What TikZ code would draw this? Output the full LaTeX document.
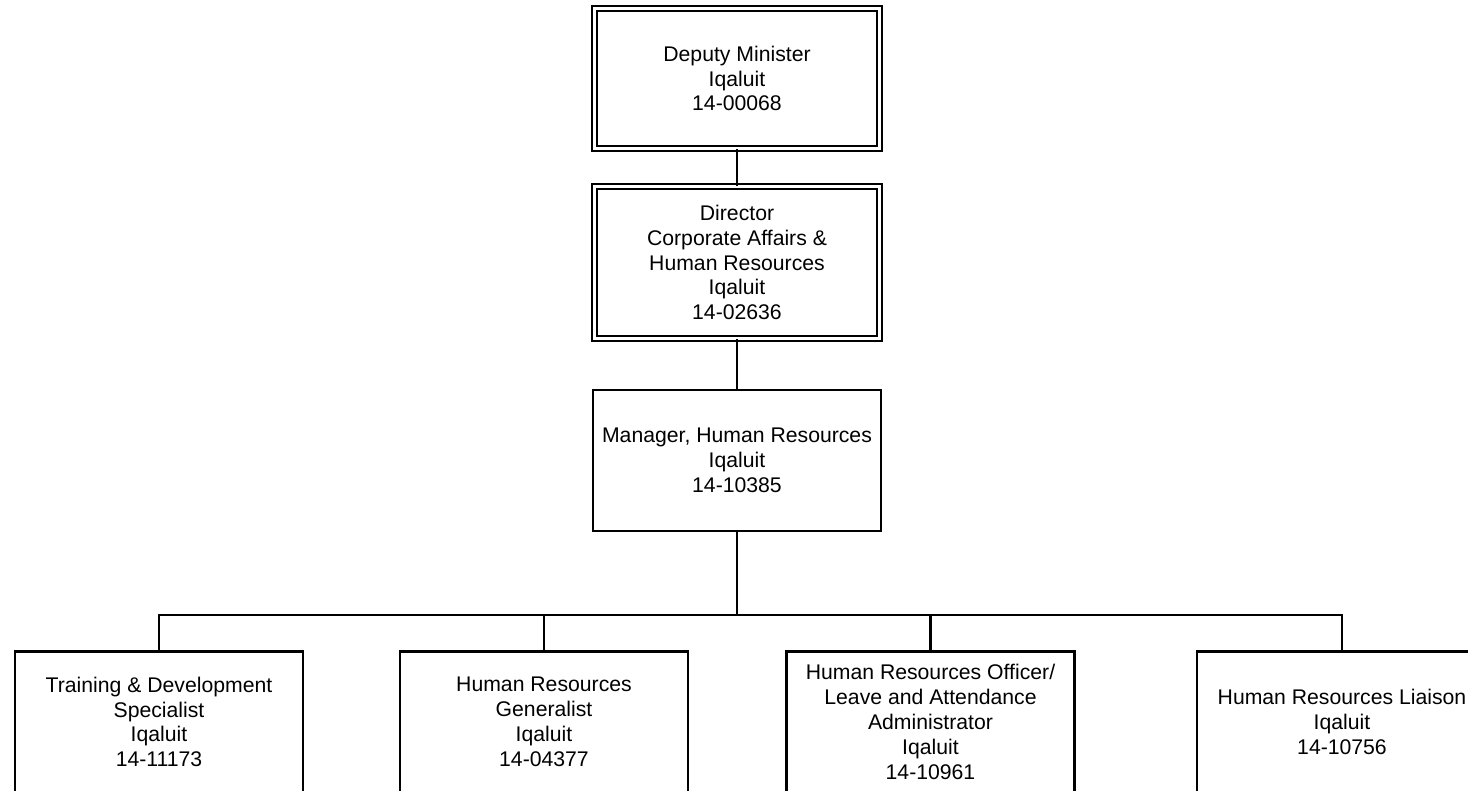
\documentclass[tikz,border=0pt]{standalone}
\usepackage{fontspec}
\setmainfont{Liberation Sans}

\begin{document}
\begin{tikzpicture}[x=1pt, y=-1pt]
\tikzset{posbox/.style={draw, line width=2.2pt, fill=white, align=center, inner sep=0pt,
           minimum width=288pt, minimum height=141pt, font=\fontsize{21.2}{24.8}\selectfont},
         dblbox/.style={posbox, line width=1.6pt, double, double distance=3pt, minimum width=285pt},
         link/.style={line width=2.2pt}}
  \useasboundingbox (0,0) rectangle (1468,791);
  \clip (0,0) rectangle (1468,791);

  \node[dblbox, minimum height=140pt] (dm) at (737,78.5) {Deputy Minister\\Iqaluit\\14-00068};
  \node[dblbox, minimum height=152pt] (dir) at (737,262.5) {Director\\Corporate Affairs \&\\Human Resources\\Iqaluit\\14-02636};
  \node[posbox] (mgr) at (737,460.5) {Manager, Human Resources\\Iqaluit\\14-10385};
  \coordinate (bus) at (737,615);

  \node[posbox] (trn) at (159,722) {Training \& Development\\Specialist\\Iqaluit\\14-11173};
  \node[posbox] (gen) at (544,722) {Human Resources\\Generalist\\Iqaluit\\14-04377};
  \node[posbox] (off) at (930.5,722) {Human Resources Officer/\\Leave and Attendance\\Administrator\\Iqaluit\\14-10961};
  \node[posbox, minimum width=290pt] (lia) at (1342,722) {Human Resources Liaison\\Iqaluit\\14-10756};

  \draw[link] (dm) -- (dir);
  \draw[link] (dir) -- (mgr);
  \draw[link] (mgr) -- (bus);
  \foreach \b in {trn,gen,off,lia}
    \draw[link] (bus) -| (\b);
\end{tikzpicture}
\end{document}
